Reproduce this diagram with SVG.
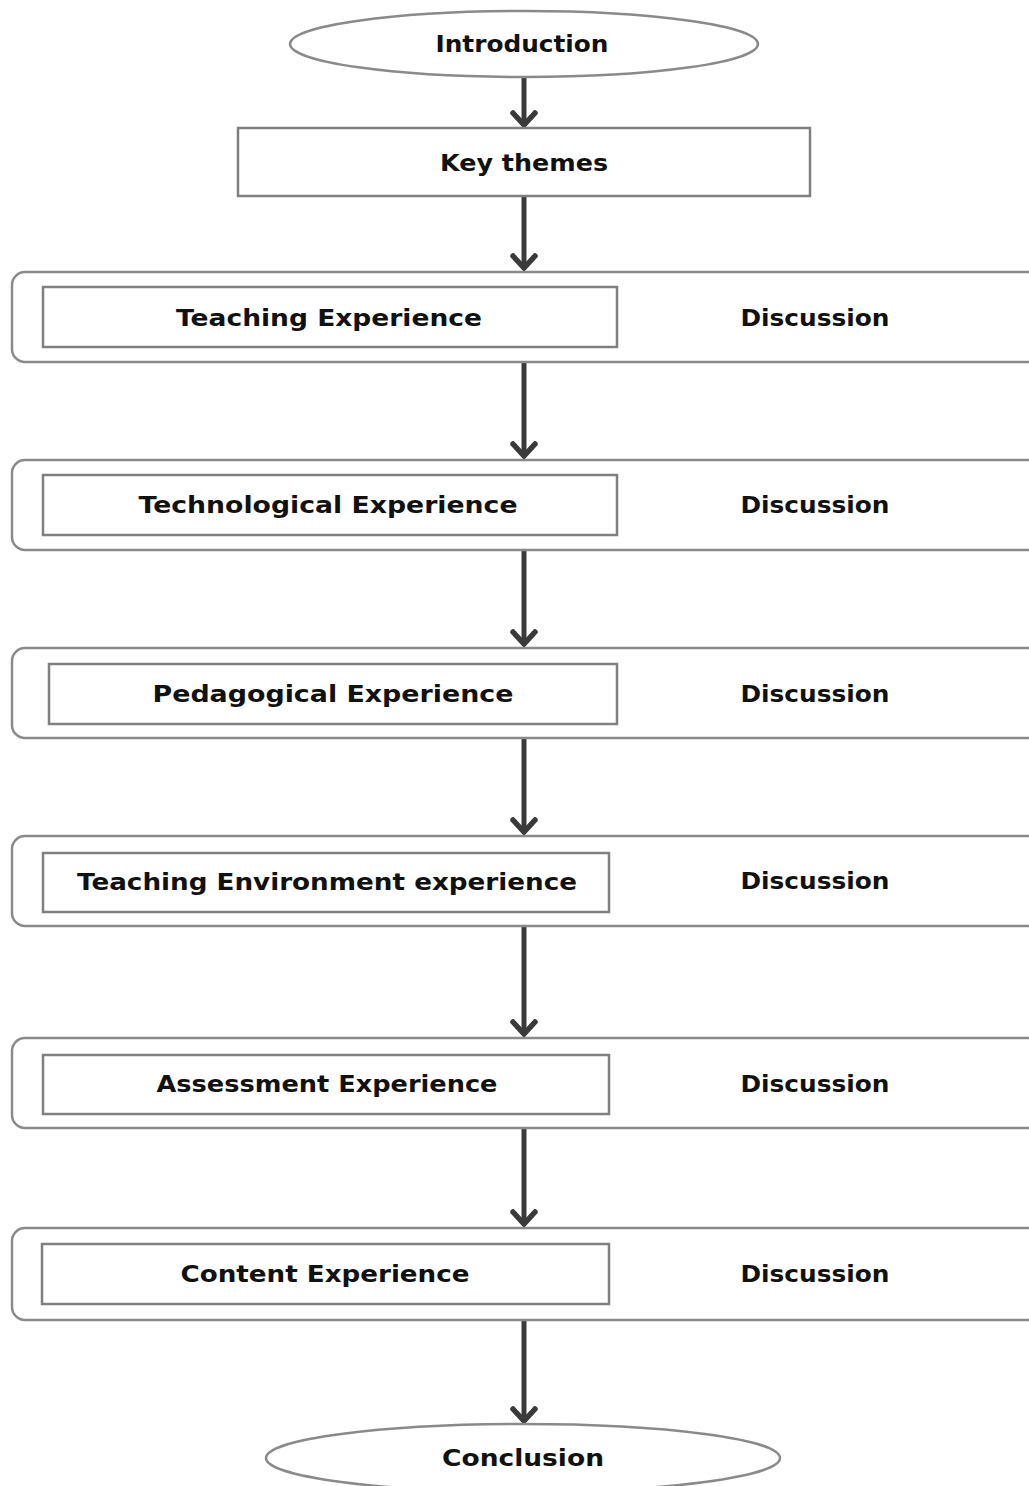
<svg xmlns="http://www.w3.org/2000/svg" width="1029" height="1486" viewBox="0 0 1029 1486">
  <style>
    .bg { fill: #ffffff; }
    .term { fill: #ffffff; stroke: #8a8a8a; stroke-width: 2.5; }
    .band { fill: #ffffff; stroke: #8a8a8a; stroke-width: 2.5; }
    .box { fill: #ffffff; stroke: #808080; stroke-width: 2.5; }
    .lbl { font-family: "DejaVu Sans", "Liberation Sans", sans-serif; font-weight: bold; font-size: 23px; fill: #111111; text-anchor: middle; dominant-baseline: central; }
    .flow { stroke: #3a3a3a; stroke-width: 5; fill: none; }
  </style>
  <defs>
    <!-- open chevron head; +x points along the connector -->
    <marker id="chev" viewBox="-16 -14 20 28" refX="0" refY="0" markerWidth="20" markerHeight="28" markerUnits="userSpaceOnUse" orient="auto" overflow="visible">
      <path d="M-12,-11 L0,0 L-12,11" fill="none" stroke="#3a3a3a" stroke-width="5.5" stroke-linejoin="miter" stroke-linecap="round"/>
    </marker>
  </defs>
  <rect class="bg" x="0" y="0" width="1029" height="1486"/>

  <!-- connectors -->
  <g id="connectors">
    <line class="flow" x1="524" y1="77" x2="524" y2="125" marker-end="url(#chev)"/>
    <line class="flow" x1="524" y1="196" x2="524" y2="268" marker-end="url(#chev)"/>
    <line class="flow" x1="524" y1="362" x2="524" y2="456" marker-end="url(#chev)"/>
    <line class="flow" x1="524" y1="550" x2="524" y2="644" marker-end="url(#chev)"/>
    <line class="flow" x1="524" y1="738" x2="524" y2="832" marker-end="url(#chev)"/>
    <line class="flow" x1="524" y1="926" x2="524" y2="1034" marker-end="url(#chev)"/>
    <line class="flow" x1="524" y1="1128" x2="524" y2="1224" marker-end="url(#chev)"/>
    <line class="flow" x1="524" y1="1320" x2="524" y2="1421" marker-end="url(#chev)"/>
  </g>

  <g id="introduction">
    <ellipse class="term" cx="524" cy="44" rx="234" ry="33"/>
    <text class="lbl" x="522" y="44" textLength="173" lengthAdjust="spacingAndGlyphs">Introduction</text>
  </g>

  <g id="key-themes">
    <rect class="box" x="238" y="128" width="572" height="68"/>
    <text class="lbl" x="524" y="163" textLength="168" lengthAdjust="spacingAndGlyphs">Key themes</text>
  </g>

  <g id="teaching">
    <rect class="band" x="12" y="272" width="1030" height="90" rx="13"/>
    <rect class="box" x="43" y="287" width="574" height="60"/>
    <text class="lbl" x="329" y="318" textLength="306" lengthAdjust="spacingAndGlyphs">Teaching Experience</text>
    <text class="lbl" x="815" y="318" textLength="149" lengthAdjust="spacingAndGlyphs">Discussion</text>
  </g>

  <g id="technological">
    <rect class="band" x="12" y="460" width="1030" height="90" rx="13"/>
    <rect class="box" x="43" y="475" width="574" height="60"/>
    <text class="lbl" x="328" y="505" textLength="379" lengthAdjust="spacingAndGlyphs">Technological Experience</text>
    <text class="lbl" x="815" y="505" textLength="149" lengthAdjust="spacingAndGlyphs">Discussion</text>
  </g>

  <g id="pedagogical">
    <rect class="band" x="12" y="648" width="1030" height="90" rx="13"/>
    <rect class="box" x="49" y="664" width="568" height="60"/>
    <text class="lbl" x="333" y="694" textLength="361" lengthAdjust="spacingAndGlyphs">Pedagogical Experience</text>
    <text class="lbl" x="815" y="694" textLength="149" lengthAdjust="spacingAndGlyphs">Discussion</text>
  </g>

  <g id="environment">
    <rect class="band" x="12" y="836" width="1030" height="90" rx="13"/>
    <rect class="box" x="43" y="853" width="566" height="59"/>
    <text class="lbl" x="327" y="882" textLength="500" lengthAdjust="spacingAndGlyphs">Teaching Environment experience</text>
    <text class="lbl" x="815" y="881" textLength="149" lengthAdjust="spacingAndGlyphs">Discussion</text>
  </g>

  <g id="assessment">
    <rect class="band" x="12" y="1038" width="1030" height="90" rx="13"/>
    <rect class="box" x="43" y="1055" width="566" height="59"/>
    <text class="lbl" x="327" y="1084" textLength="341" lengthAdjust="spacingAndGlyphs">Assessment Experience</text>
    <text class="lbl" x="815" y="1084" textLength="149" lengthAdjust="spacingAndGlyphs">Discussion</text>
  </g>

  <g id="content">
    <rect class="band" x="12" y="1228" width="1030" height="92" rx="13"/>
    <rect class="box" x="42" y="1244" width="567" height="60"/>
    <text class="lbl" x="325" y="1274" textLength="289" lengthAdjust="spacingAndGlyphs">Content Experience</text>
    <text class="lbl" x="815" y="1274" textLength="149" lengthAdjust="spacingAndGlyphs">Discussion</text>
  </g>

  <g id="conclusion">
    <ellipse class="term" cx="523" cy="1458" rx="257" ry="34"/>
    <text class="lbl" x="523" y="1458" textLength="162" lengthAdjust="spacingAndGlyphs">Conclusion</text>
  </g>
</svg>
